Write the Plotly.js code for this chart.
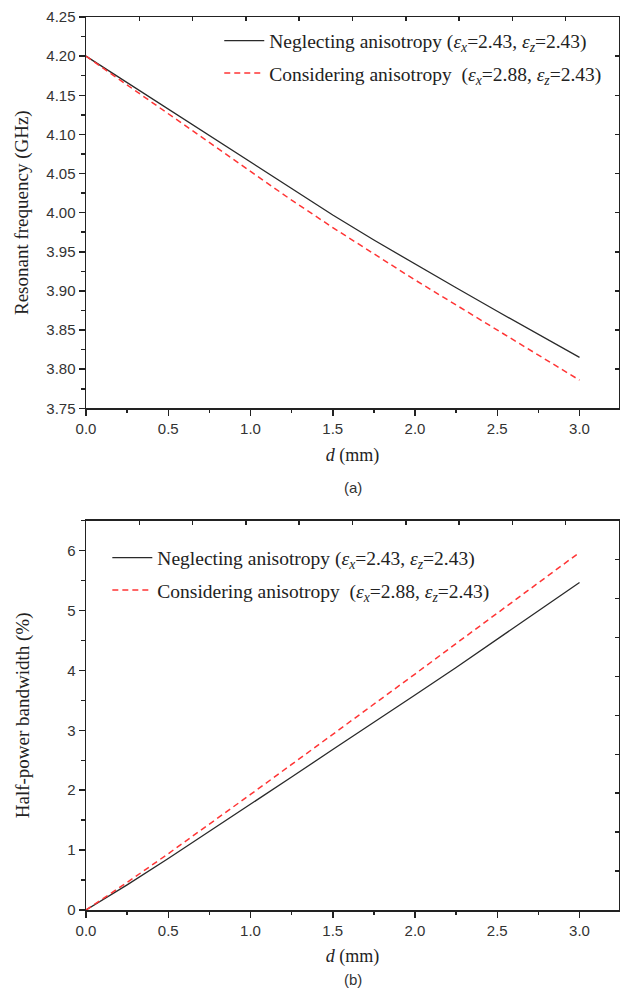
<!DOCTYPE html>
<html>
<head>
<meta charset="utf-8">
<script src="https://cdn.plot.ly/plotly-3.0.1.min.js"></script>
<style>html,body{margin:0;padding:0;background:#fff;}#chart{width:620px;height:994px;}</style>
</head>
<body>
<div id="chart"></div>
<script>
// ---- data ----
const d = [0, 0.25, 0.5, 0.75, 1.0, 1.25, 1.5, 1.75, 2.0, 2.25, 2.5, 2.75, 3.0];
const freqNeglect = [4.200, 4.166, 4.132, 4.098, 4.064, 4.030, 3.997, 3.965, 3.934, 3.904, 3.874, 3.844, 3.815];
const freqConsider = [4.200, 4.163, 4.126, 4.089, 4.052, 4.016, 3.981, 3.947, 3.914, 3.882, 3.850, 3.818, 3.786];
const bwNeglect = [0, 0.42, 0.86, 1.31, 1.77, 2.22, 2.68, 3.13, 3.59, 4.05, 4.52, 4.99, 5.47];
const bwConsider = [0, 0.46, 0.94, 1.43, 1.93, 2.43, 2.93, 3.43, 3.94, 4.45, 4.96, 5.46, 5.97];
const nameNeglect = 'Neglecting anisotropy (<i>ε</i><sub><i>x</i></sub>=2.43, <i>ε</i><sub><i>z</i></sub>=2.43)';
const nameConsider = 'Considering anisotropy &nbsp;(<i>ε</i><sub><i>x</i></sub>=2.88, <i>ε</i><sub><i>z</i></sub>=2.43)';
const frameDivs = [1, 2, 3, 4, 5, 6, 7, 8, 9];

const serif = 'Liberation Serif, Times New Roman, serif';
const sans = 'Liberation Sans, Arial, sans-serif';
const lineC = '#222';

const blackLine = {color: '#2a2a2a', width: 1.3};
const redLine = {color: '#ff3535', width: 1.5, dash: '6px,4px'};

const traces = [
  {x: d, y: freqNeglect, xaxis: 'x', yaxis: 'y', mode: 'lines', name: nameNeglect, line: blackLine, legend: 'legend', legendgroup: 'a1'},
  {x: d, y: freqConsider, xaxis: 'x', yaxis: 'y', mode: 'lines', name: nameConsider, line: redLine, legend: 'legend', legendgroup: 'a2'},
  {x: d, y: bwNeglect, xaxis: 'x2', yaxis: 'y2', mode: 'lines', name: nameNeglect, line: blackLine, legend: 'legend2', legendgroup: 'b1'},
  {x: d, y: bwConsider, xaxis: 'x2', yaxis: 'y2', mode: 'lines', name: nameConsider, line: redLine, legend: 'legend2', legendgroup: 'b2'},
  // dummy traces to host the frame tick axes
  {x: [null], y: [null], xaxis: 'x3', yaxis: 'y', showlegend: false, hoverinfo: 'skip'},
  {x: [null], y: [null], xaxis: 'x', yaxis: 'y3', showlegend: false, hoverinfo: 'skip'},
  {x: [null], y: [null], xaxis: 'x4', yaxis: 'y2', showlegend: false, hoverinfo: 'skip'},
  {x: [null], y: [null], xaxis: 'x2', yaxis: 'y4', showlegend: false, hoverinfo: 'skip'}
];

function mainX(anchor) {
  return {
    anchor: anchor, domain: [0, 1], range: [0, 3.24], autorange: false,
    tick0: 0, dtick: 0.5, tickformat: '.1f',
    ticks: 'outside', ticklen: 6, tickwidth: 1.5, tickcolor: lineC,
    minor: {dtick: 0.25, ticks: 'outside', ticklen: 3.5, tickwidth: 1.5, tickcolor: lineC},
    showline: true, linewidth: 1.5, linecolor: lineC, mirror: true,
    showgrid: false, zeroline: false,
    tickfont: {family: sans, size: 15, color: '#333'},
    title: {text: '<i>d</i> (mm)', font: {family: serif, size: 18, color: '#222'}, standoff: 12}
  };
}
function mainY(anchor, domain, range, dtick, minor, fmt, title, standoff) {
  return {
    anchor: anchor, domain: domain, range: range, autorange: false,
    tick0: range[0], dtick: dtick, tickformat: fmt,
    ticks: 'outside', ticklen: 6, tickwidth: 1.5, tickcolor: lineC,
    minor: {dtick: minor, ticks: 'outside', ticklen: 3.5, tickwidth: 1.5, tickcolor: lineC},
    showline: true, linewidth: 1.5, linecolor: lineC, mirror: true,
    showgrid: false, zeroline: false, automargin: false,
    tickfont: {family: sans, size: 15, color: '#333'},
    title: {text: title, font: {family: serif, size: 19, color: '#222'}, standoff: standoff}
  };
}
function frameX(over, anchor) {
  return {overlaying: over, anchor: anchor, side: 'top', range: [0, 10], autorange: false,
    tickvals: frameDivs, ticks: 'inside', ticklen: 4, tickwidth: 1.5, tickcolor: lineC,
    showticklabels: false, showline: false, showgrid: false, zeroline: false};
}
function frameY(over, anchor) {
  return {overlaying: over, anchor: anchor, side: 'right', range: [0, 10], autorange: false,
    tickvals: frameDivs, ticks: 'inside', ticklen: 4, tickwidth: 1.5, tickcolor: lineC,
    showticklabels: false, showline: false, showgrid: false, zeroline: false};
}

const legendBase = {
  xanchor: 'left', yanchor: 'top', bgcolor: 'rgba(0,0,0,0)', borderwidth: 0,
  font: {family: serif, size: 19.5, color: '#222'}, traceorder: 'grouped', tracegroupgap: 4,
  itemwidth: 40
};

const layout = {
  width: 620, height: 994,
  margin: {l: 86, r: 1, t: 17, b: 84},
  paper_bgcolor: '#fff', plot_bgcolor: '#fff',
  showlegend: true,
  xaxis: mainX('y'),
  yaxis: mainY('x', [0.5618, 1], [3.75, 4.25], 0.05, 0.025, '.2f', 'Resonant frequency (GHz)', 12),
  xaxis2: mainX('y2'),
  yaxis2: mainY('x2', [0, 0.4359], [0, 6.5], 1, 0.5, 'd', 'Half-power bandwidth (%)', 32),
  xaxis3: frameX('x', 'y'),
  yaxis3: frameY('y', 'x'),
  xaxis4: frameX('x2', 'y2'),
  yaxis4: frameY('y2', 'x2'),
  legend: Object.assign({}, legendBase, {x: 0.25, y: 0.995}),
  legend2: Object.assign({}, legendBase, {x: 0.04, y: 0.416}),
  annotations: [
    {text: '(a)', xref: 'paper', yref: 'paper', x: 0.5, y: (910 - 487) / 893, xanchor: 'center', yanchor: 'middle', showarrow: false, font: {family: sans, size: 15, color: '#333'}},
    {text: '(b)', xref: 'paper', yref: 'paper', x: 0.5, y: (910 - 979) / 893, xanchor: 'center', yanchor: 'middle', showarrow: false, font: {family: sans, size: 15, color: '#333'}}
  ]
};

Plotly.newPlot('chart', traces, layout, {displayModeBar: false, staticPlot: true});
</script>
</body>
</html>
